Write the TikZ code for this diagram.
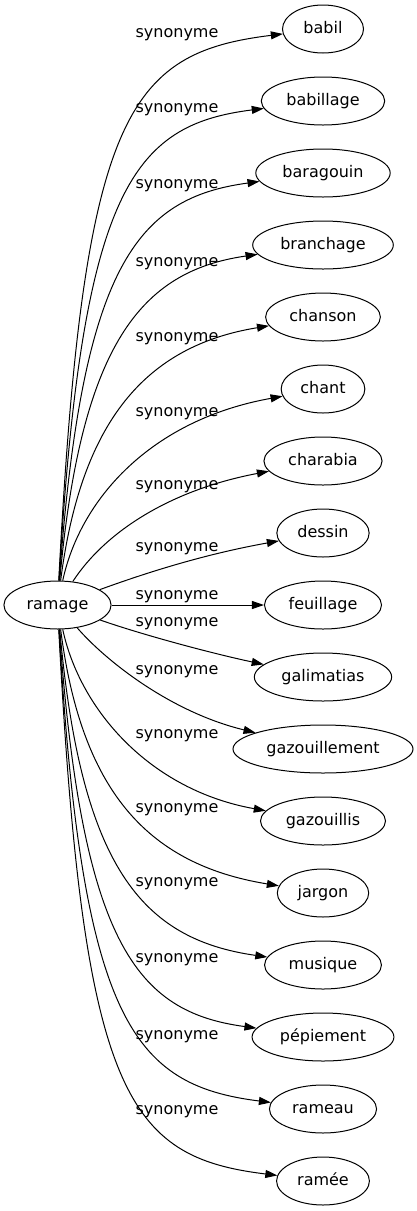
\documentclass[tikz,border=0pt]{standalone}
\usepackage{fontspec}
\setmainfont{DejaVu Sans}
\usetikzlibrary{shapes.geometric,arrows.meta}

\begin{document}
\begin{tikzpicture}[x=1pt,y=-1pt,
  word/.style={draw,line width=1pt,ellipse,minimum width=81pt,minimum height=48pt,inner xsep=7pt,inner ysep=3pt,text height=12pt,text depth=3.5pt,font=\fontsize{16}{19}\selectfont},
  synlab/.style={anchor=base,inner sep=0pt,font=\fontsize{16}{19}\selectfont},
  synline/.style={-{Triangle[length=12pt,width=8pt]},line width=1pt}]
\useasboundingbox (0,0) rectangle (416,1211);

\node [word] (ramage) at (57.5,605) {ramage};

\node [word] (t1) at (323,29) {babil};
\node [word] (t2) at (323,101) {babillage};
\node [word] (t3) at (323,173) {baragouin};
\node [word] (t4) at (323,245) {branchage};
\node [word] (t5) at (323,317) {chanson};
\node [word] (t6) at (323,389) {chant};
\node [word] (t7) at (323,461) {charabia};
\node [word] (t8) at (323,533) {dessin};
\node [word] (t9) at (323,605) {feuillage};
\node [word] (t10) at (323,677) {galimatias};
\node [word] (t11) at (323,749) {gazouillement};
\node [word] (t12) at (323,821) {gazouillis};
\node [word] (t13) at (323,893) {jargon};
\node [word] (t14) at (323,965) {musique};
\node [word] (t15) at (323,1037) {pépiement};
\node [word] (t16) at (323,1109) {rameau};
\node [word] (t17) at (323,1181) {ramée};
%%%%%%%%%%%%%%%%%%%%%%%%%%%%
\draw [synline](ramage) .. controls (83,114) and (127,53) .. (t1);
\node [synlab] (t1-1) at (177,37) {synonyme};
\draw [synline](ramage) .. controls (82,190) and (132,125) .. (t2);
\node [synlab] (t2-1) at (177,112) {synonyme};
\draw [synline](ramage) .. controls (82,267) and (136,198) .. (t3);
\node [synlab] (t3-1) at (177,188) {synonyme};
\draw [synline](ramage) .. controls (81,344) and (141,271) .. (t4);
\node [synlab] (t4-1) at (177,266) {synonyme};
\draw [synline](ramage) .. controls (81,422) and (145,346) .. (t5);
\node [synlab] (t5-1) at (177,341) {synonyme};
\draw [synline](ramage) .. controls (80,500) and (150,420) .. (t6);
\node [synlab] (t6-1) at (177,416) {synonyme};
\draw [synline](ramage) .. controls (105,532) and (170,490) .. (t7);
\node [synlab] (t7-1) at (177,489) {synonyme};
\draw [synline](ramage) .. controls (140,575) and (200,555) .. (t8);
\node [synlab] (t8-1) at (177,551) {synonyme};
\draw [synline](ramage) -- (t9);
\node [synlab] (t9-1) at (177,599) {synonyme};
%%%%%%%%%%%%%%%%%%%%%%%%%%%%
\draw [synline](ramage) .. controls (140,634) and (210,653) .. (t10);
\node [synlab] (t10-1) at (177,626) {synonyme};
\draw [synline](ramage) .. controls (105,660) and (170,712) .. (t11);
\node [synlab] (t11-1) at (177,674) {synonyme};
\draw [synline](ramage) .. controls (80,710) and (150,790) .. (t12);
\node [synlab] (t12-1) at (177,738) {synonyme};
\draw [synline](ramage) .. controls (81,788) and (145,864) .. (t13);
\node [synlab] (t13-1) at (177,812) {synonyme};
\draw [synline](ramage) .. controls (81,866) and (141,939) .. (t14);
\node [synlab] (t14-1) at (177,886) {synonyme};
\draw [synline](ramage) .. controls (82,943) and (136,1012) .. (t15);
\node [synlab] (t15-1) at (177,962) {synonyme};
\draw [synline](ramage) .. controls (82,1020) and (132,1085) .. (t16);
\node [synlab] (t16-1) at (177,1039) {synonyme};
\draw [synline](ramage) .. controls (83,1096) and (127,1157) .. (t17);
\node [synlab] (t17-1) at (177,1114) {synonyme};
%%%%%%%%%%%%%%%%%%%%%%%%%%%%
\end{tikzpicture}
\end{document}
